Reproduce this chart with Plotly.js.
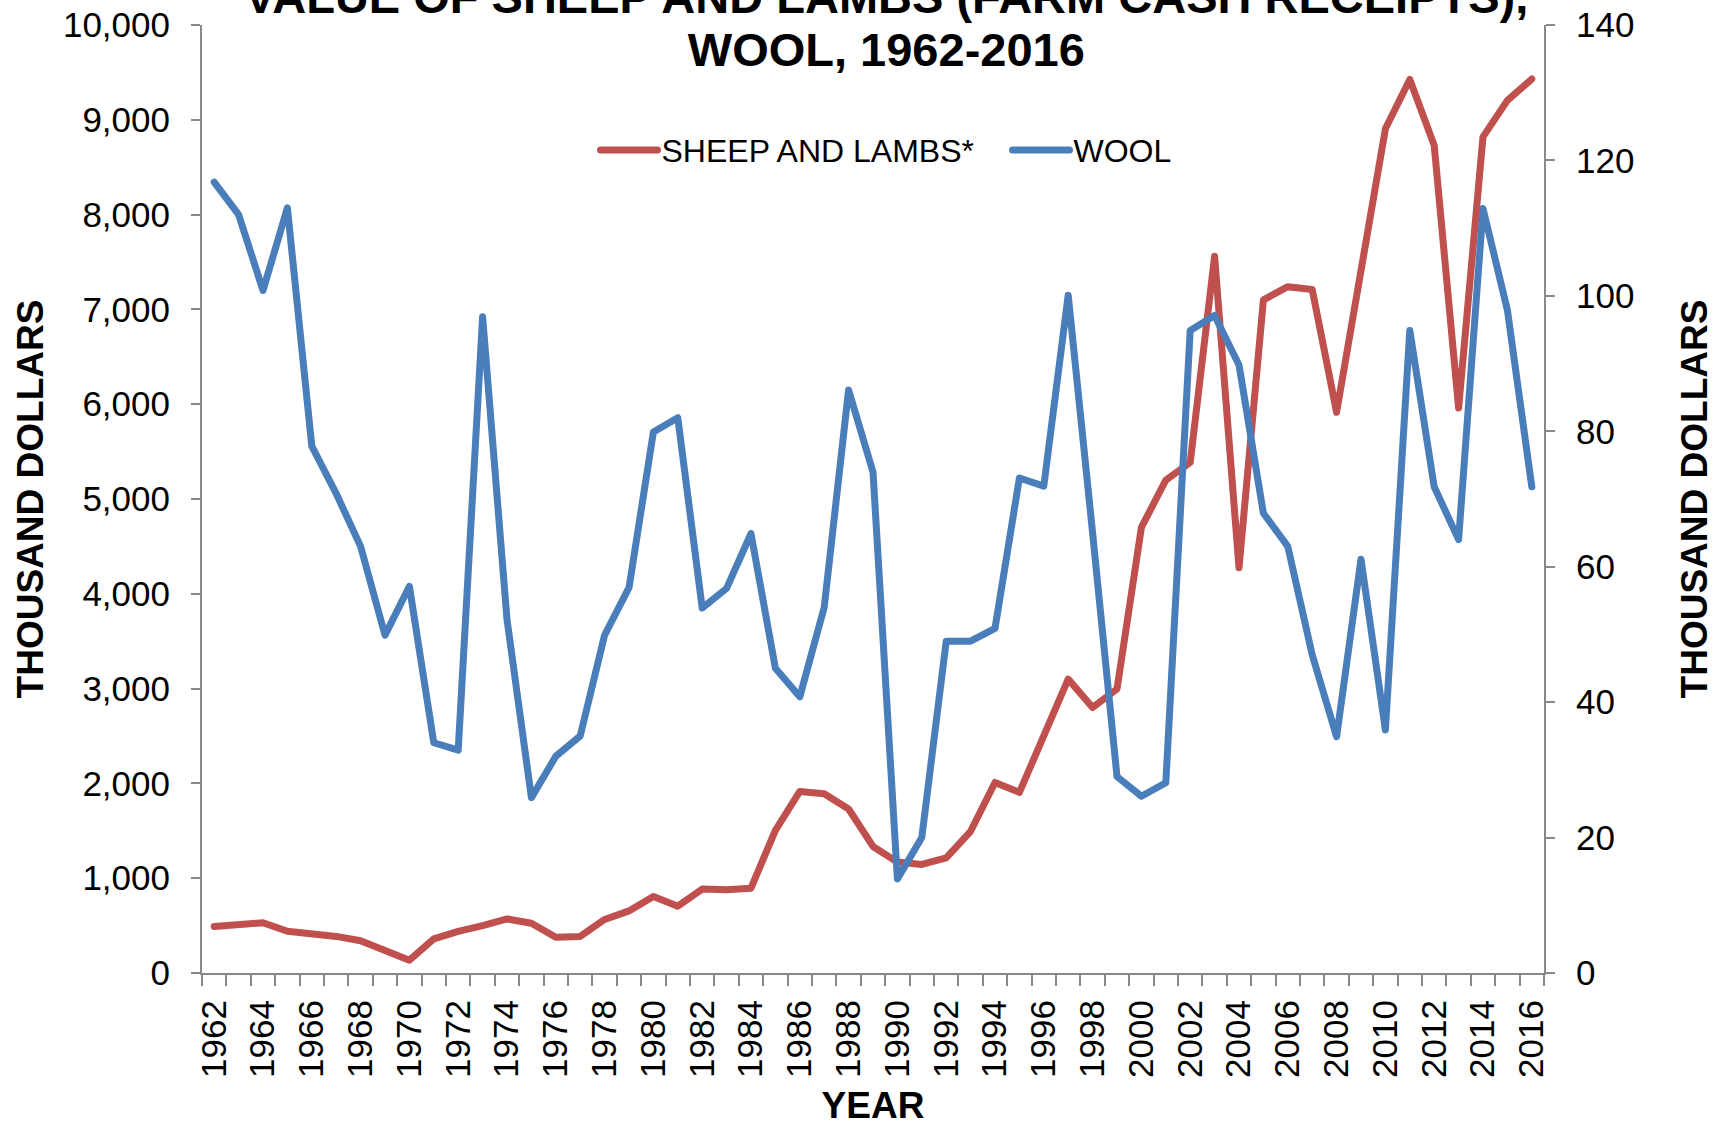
<!DOCTYPE html>
<html>
<head>
<meta charset="utf-8">
<script src="https://cdn.plot.ly/plotly-3.0.1.min.js"></script>
<style>
html,body{margin:0;padding:0;background:#fff;}
#chart{width:1721px;height:1126px;}
.js-line, .legendlines path{stroke-linejoin:round;stroke-linecap:round;}
</style>
</head>
<body>
<div id="chart"></div>
<script>
const years = [1962,1963,1964,1965,1966,1967,1968,1969,1970,1971,
  1972,1973,1974,1975,1976,1977,1978,1979,1980,1981,
  1982,1983,1984,1985,1986,1987,1988,1989,1990,1991,
  1992,1993,1994,1995,1996,1997,1998,1999,2000,2001,
  2002,2003,2004,2005,2006,2007,2008,2009,2010,2011,
  2012,2013,2014,2015,2016];

// SHEEP AND LAMBS* (thousand dollars, left axis)
const sheepLambs = [490,515,530,440,422,386,340,245,135,360,
  440,500,570,525,378,386,565,655,808,705,
  885,878,895,1505,1915,1890,1730,1335,1170,1145,
  1215,1495,2010,1905,2500,3100,2800,2995,4700,5200,
  5385,7560,4275,7100,7240,7210,5915,7400,8905,9425,
  8730,5960,8820,9205,9430];

// WOOL (thousand dollars, right axis)
const wool = [116.8,112,100.8,113,77.8,70.8,63,49.9,57.1,34,
  32.9,96.9,52.2,25.9,32,35,49.9,56.9,79.9,82,
  53.9,56.8,64.9,45,40.8,54,86.1,74,13.9,20,
  49,49,50.9,73.1,71.9,100.1,65,29,26.1,28.1,
  94.9,97.1,89.8,67.9,63,47,34.9,61.1,35.9,94.9,
  71.8,64,112.9,97.9,71.8];

const seriesNames = ['SHEEP AND LAMBS*', 'WOOL'];
const titleText = '<b>VALUE OF SHEEP AND LAMBS (FARM CASH RECEIPTS),<br>WOOL, 1962-2016</b>';
const axisTitleY = '<b>THOUSAND DOLLARS</b>';
const axisTitleX = '<b>YEAR</b>';

const FONT = 'Liberation Sans, Arial, sans-serif';
const AXIS = '#898989';

const traces = [
  {x: years, y: sheepLambs, name: seriesNames[0], type: 'scatter', mode: 'lines',
   line: {color: '#C0504D', width: 7}, yaxis: 'y'},
  {x: years, y: wool, name: seriesNames[1], type: 'scatter', mode: 'lines',
   line: {color: '#4A7EBB', width: 7}, yaxis: 'y2'}
];

const yCommon = {
  showgrid: false, zeroline: false, showline: true, linecolor: AXIS, linewidth: 2,
  ticks: 'outside', ticklen: 9, tickwidth: 2, tickcolor: AXIS,
  tickfont: {family: FONT, size: 35, color: '#000'},
  ticklabelstandoff: 14
};

const layout = {
  width: 1721, height: 1126, autosize: false,
  paper_bgcolor: '#fff', plot_bgcolor: '#fff',
  margin: {l: 202, r: 177, t: 25, b: 153},
  font: {family: FONT, color: '#000'},
  title: {text: titleText, font: {family: FONT, size: 47, color: '#000'},
          x: 0.515, xref: 'container', xanchor: 'center',
          y: 1 - 13/1126, yref: 'container', yanchor: 'bottom'},
  showlegend: true,
  legend: {orientation: 'h', x: (621.5 - 202) / 1342, xanchor: 'left', y: 0.868, yanchor: 'middle',
           entrywidth: 367, entrywidthmode: 'pixels',
           font: {family: FONT, size: 32, color: '#000'}, bgcolor: 'rgba(0,0,0,0)'},
  xaxis: {
    type: 'linear', range: [1961.5, 2016.5], tick0: 1962, dtick: 2,
    tickangle: -90, showgrid: false, zeroline: false,
    showline: true, linecolor: AXIS, linewidth: 2,
    ticks: 'outside', ticklen: 11, tickwidth: 2, tickcolor: 'rgba(0,0,0,0)',
    minor: {tick0: 1961.5, dtick: 1, ticks: 'outside', ticklen: 11, tickwidth: 2, tickcolor: AXIS, showgrid: false},
    tickfont: {family: FONT, size: 35, color: '#000'},
    title: {text: axisTitleX, font: {family: FONT, size: 37, color: '#000'}, standoff: 25}
  },
  yaxis: Object.assign({}, yCommon, {
    range: [0, 10000], dtick: 1000, tickformat: ',d',
    title: {text: axisTitleY, font: {family: FONT, size: 37, color: '#000'}, standoff: 8}
  }),
  yaxis2: Object.assign({}, yCommon, {
    overlaying: 'y', side: 'right', range: [0, 140], dtick: 20,
    title: {text: axisTitleY, font: {family: FONT, size: 37, color: '#000'}, standoff: 48}
  })
};

Plotly.newPlot('chart', traces, layout, {staticPlot: true, displayModeBar: false}).then(function () {
  // tighter title line spacing, as in the source chart
  document.querySelectorAll('.gtitle tspan.line').forEach(function (t) {
    if (t.getAttribute('dy') === '1.3em') t.setAttribute('dy', '1.13em');
  });
  // longer legend line samples (unclipped)
  document.querySelectorAll('.legend [clip-path]').forEach(function (e) {
    e.removeAttribute('clip-path');
  });
  document.querySelectorAll('.legendlines path').forEach(function (p) {
    p.setAttribute('d', 'M-21,0h57');
  });
});
</script>
</body>
</html>
